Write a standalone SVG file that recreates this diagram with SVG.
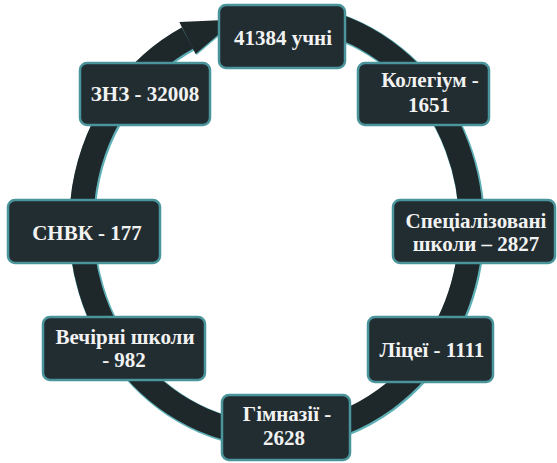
<svg xmlns="http://www.w3.org/2000/svg" width="557" height="463" viewBox="0 0 557 463">
<defs>
<style>
.box{fill:#222d31;stroke:#4a959b;stroke-width:2.5}
text{font-family:'Liberation Serif','Times New Roman',serif;font-weight:bold;font-size:21px;fill:#f2f2f2;text-anchor:middle}
.ringEdge{fill:none;stroke:#5fb0b6;stroke-width:26}
.ring{fill:none;stroke:#1e282b;stroke-width:24}
</style>
</defs>
<rect width="557" height="463" fill="#ffffff"/>
<g id="connectors">
<path class="ringEdge" transform="translate(1,1)" d="M326.5,22.2 A195,210 0 1 1 187.5,37.9"/>
<path class="ring" d="M326.5,22.2 A195,210 0 1 1 187.5,37.9"/>
<polygon points="179.3,21.9 236,19.6 195.6,53.9" fill="#5fb0b6" transform="translate(1,1)"/>
<polygon points="179.3,21.9 236,19.6 195.6,53.9" fill="#1e282b"/>
</g>
<g id="n1"><rect class="box" x="219" y="5" width="126" height="63" rx="7"/><text x="283" y="45">41384 учні</text></g>
<g id="n2"><rect class="box" x="358" y="63" width="131" height="62" rx="7"/><text x="430" y="87" font-size="22">Колегіум -</text><text x="429" y="112">1651</text></g>
<g id="n3"><rect class="box" x="393" y="200" width="162" height="63" rx="7"/><text x="476" y="228">Спеціалізовані</text><text x="476" y="251">школи – 2827</text></g>
<g id="n4"><rect class="box" x="368" y="317" width="125" height="65" rx="7"/><text x="432" y="357">Ліцеї - 1111</text></g>
<g id="n5"><rect class="box" x="222" y="395" width="128" height="65" rx="7"/><text x="287" y="421">Гімназії -</text><text x="284" y="445">2628</text></g>
<g id="n6"><rect class="box" x="43" y="317" width="162" height="63" rx="7"/><text x="125" y="344">Вечірні школи</text><text x="124" y="367">- 982</text></g>
<g id="n7"><rect class="box" x="8" y="200" width="152" height="63" rx="7"/><text x="87" y="240">СНВК - 177</text></g>
<g id="n8"><rect class="box" x="80" y="63" width="130" height="62" rx="7"/><text x="145" y="101">ЗНЗ - 32008</text></g>
</svg>
